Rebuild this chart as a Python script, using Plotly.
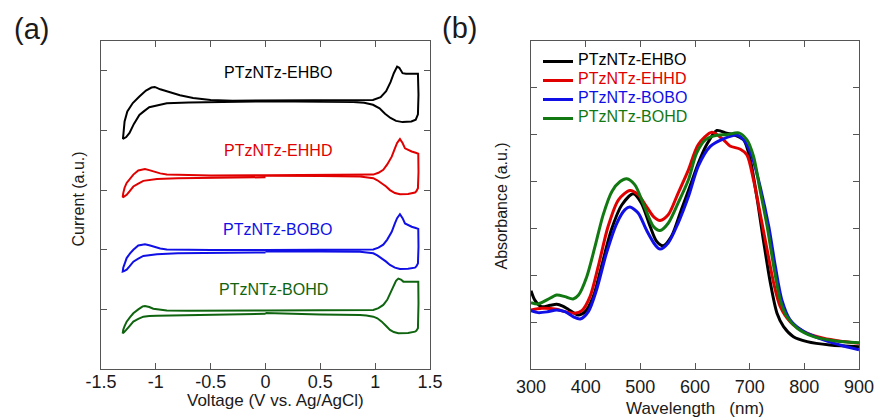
import plotly.graph_objects as go

# ---------------- (a) Cyclic voltammetry ----------------
cv_names = ["PTzNTz-EHBO", "PTzNTz-EHHD", "PTzNTz-BOBO", "PTzNTz-BOHD"]
cv_colors = ["#000000", "#e00000", "#1010e6", "#0f640f"]

v_ehbo = [0, -0.5, -0.7, -0.9, -1.0, -1.06, -1.11, -1.15, -1.2, -1.24, -1.27, -1.30,
          -1.295, -1.285, -1.26, -1.21, -1.15, -1.09, -1.04, -1.01, -0.96, -0.88, -0.78, -0.66, -0.5, -0.3,
          0, 0.5, 0.85, 0.98, 1.05, 1.10, 1.14, 1.17, 1.20, 1.22, 1.25, 1.28, 1.39,
          1.395, 1.39, 1.37, 1.33, 1.25, 1.19, 1.14, 1.09, 1.04, 0.98, 0.9, 0.8, 0.5, 0]
i_ehbo = [4.49, 4.478, 4.47, 4.455, 4.42, 4.39, 4.32, 4.26, 4.11, 3.96, 3.89, 3.86,
          3.95, 4.15, 4.32, 4.46, 4.57, 4.67, 4.72, 4.73, 4.69, 4.64, 4.59, 4.545, 4.51, 4.50,
          4.50, 4.50, 4.50, 4.51, 4.56, 4.66, 4.81, 4.96, 5.07, 5.05, 4.96, 4.95, 4.95,
          4.6, 4.27, 4.18, 4.15, 4.14, 4.16, 4.21, 4.28, 4.37, 4.43, 4.465, 4.478, 4.485, 4.49]

v_ehhd = [0, -0.5, -0.8, -0.99, -1.06, -1.114, -1.16, -1.205, -1.24, -1.266, -1.29, -1.302,
          -1.297, -1.285, -1.266, -1.235, -1.205, -1.16, -1.12, -1.099, -1.06, -1.023, -0.96, -0.9, -0.7, -0.5,
          0, 0.5, 0.9, 0.983, 1.03, 1.074, 1.11, 1.151, 1.18, 1.2, 1.226, 1.25, 1.272, 1.30, 1.333, 1.37, 1.393,
          1.395, 1.39, 1.375, 1.363, 1.3, 1.226, 1.18, 1.135, 1.1, 1.06, 1.02, 0.983, 0.92, 0.862, 0.5, 0]
i_ehhd = [3.215, 3.21, 3.20, 3.184, 3.17, 3.155, 3.11, 3.06, 2.98, 2.92, 2.89, 2.88,
          2.95, 3.04, 3.12, 3.20, 3.26, 3.33, 3.35, 3.352, 3.335, 3.31, 3.28, 3.262, 3.25, 3.245,
          3.25, 3.255, 3.256, 3.26, 3.29, 3.34, 3.43, 3.56, 3.70, 3.79, 3.855, 3.79, 3.70, 3.67, 3.647, 3.625, 3.61,
          3.3, 3.03, 2.98, 2.96, 2.935, 2.93, 2.95, 3.00, 3.06, 3.117, 3.165, 3.20, 3.22, 3.228, 3.235, 3.24]

v_bobo = [0, -0.5, -0.8, -0.99, -1.06, -1.114, -1.16, -1.205, -1.24, -1.266, -1.29, -1.302,
          -1.297, -1.285, -1.266, -1.235, -1.205, -1.16, -1.12, -1.099, -1.06, -1.023, -0.96, -0.9, -0.7, -0.5,
          0, 0.5, 0.9, 0.983, 1.03, 1.074, 1.11, 1.151, 1.18, 1.2, 1.226, 1.25, 1.272, 1.30, 1.333, 1.37, 1.393,
          1.395, 1.39, 1.375, 1.363, 1.3, 1.226, 1.18, 1.135, 1.1, 1.06, 1.02, 0.983, 0.92, 0.862, 0.5, 0]
i_bobo = [1.955, 1.95, 1.94, 1.925, 1.91, 1.895, 1.85, 1.80, 1.72, 1.665, 1.64, 1.633,
          1.70, 1.78, 1.86, 1.94, 2.00, 2.07, 2.09, 2.093, 2.075, 2.05, 2.02, 2.005, 1.998, 1.995,
          1.997, 1.998, 2.0, 2.005, 2.035, 2.085, 2.17, 2.30, 2.44, 2.53, 2.596, 2.53, 2.44, 2.41, 2.385, 2.365, 2.35,
          2.05, 1.77, 1.72, 1.70, 1.682, 1.678, 1.70, 1.745, 1.80, 1.86, 1.905, 1.94, 1.96, 1.968, 1.97, 1.97]

v_bohd = [0, -0.5, -0.8, -0.99, -1.06, -1.114, -1.16, -1.205, -1.24, -1.266, -1.29, -1.302,
          -1.297, -1.285, -1.266, -1.235, -1.205, -1.16, -1.12, -1.099, -1.06, -1.023, -0.96, -0.9, -0.7, -0.5,
          0, 0.5, 0.9, 0.983, 1.03, 1.074, 1.11, 1.135, 1.165, 1.19, 1.211, 1.235, 1.257, 1.3, 1.393,
          1.395, 1.39, 1.375, 1.363, 1.3, 1.211, 1.17, 1.135, 1.1, 1.06, 1.02, 0.983, 0.92, 0.862, 0.5, 0]
i_bohd = [0.925, 0.915, 0.905, 0.895, 0.888, 0.878, 0.84, 0.794, 0.72, 0.655, 0.615, 0.599,
          0.66, 0.72, 0.794, 0.87, 0.935, 1.0, 1.05, 1.057, 1.04, 1.01, 0.99, 0.98, 0.977, 0.975,
          0.98, 0.985, 0.988, 0.99, 1.02, 1.074, 1.16, 1.27, 1.40, 1.48, 1.516, 1.50, 1.465, 1.465, 1.465,
          1.1, 0.683, 0.64, 0.626, 0.605, 0.599, 0.62, 0.655, 0.72, 0.794, 0.85, 0.878, 0.897, 0.906, 0.915, 0.94]

cv_label_x = [0.111, 0.111, 0.113, 0.077]
cv_label_y = [4.973, 3.667, 2.333, 1.334]

cv_x_ticks = [-1.5, -1, -0.5, 0, 0.5, 1, 1.5]
cv_x_text = ["-1.5", "-1", "-0.5", "0", "0.5", "1", "1.5"]
cv_y_ticks = [1, 2, 3, 4, 5]

# ---------------- (b) UV-vis absorption ----------------
abs_names = ["PTzNTz-EHBO", "PTzNTz-EHHD", "PTzNTz-BOBO", "PTzNTz-BOHD"]
abs_colors = ["#000000", "#e00000", "#1010e6", "#127812"]

wl_ehbo = [300, 307, 319, 335, 347, 358, 368, 386, 399, 414, 429, 447, 466, 487, 502, 518, 530, 542, 557,
           575, 594, 606, 622, 640, 658, 671, 689, 701, 713, 725, 738, 750, 762, 780, 805, 847, 900]
a_ehbo = [1.67, 1.47, 1.33, 1.36, 1.38, 1.34, 1.275, 1.154, 1.225, 1.545, 2.19, 2.97, 3.5, 3.74, 3.54, 3.04,
          2.72, 2.63, 2.83, 3.4, 4.0, 4.39, 4.8, 5.09, 5.03, 5.0, 4.89, 4.47, 3.68, 2.76, 1.83, 1.19, 0.905,
          0.69, 0.585, 0.513, 0.477]

wl_ehhd = [300, 320, 347, 362, 380, 393, 408, 423, 441, 460, 481, 496, 511, 525, 536, 551, 569, 588, 606,
           631, 652, 664, 683, 695, 707, 719, 732, 744, 756, 774, 799, 835, 872, 900]
a_ehhd = [1.26, 1.297, 1.275, 1.225, 1.19, 1.246, 1.545, 2.19, 3.04, 3.61, 3.81, 3.72, 3.47, 3.24, 3.17,
          3.29, 3.75, 4.25, 4.79, 5.05, 4.89, 4.76, 4.69, 4.57, 4.04, 3.33, 2.54, 1.83, 1.33, 1.01, 0.80,
          0.655, 0.585, 0.55]

wl_bobo = [300, 313, 330, 347, 362, 377, 390, 405, 420, 438, 457, 472, 481, 496, 511, 527, 536, 551, 569,
           588, 606, 628, 652, 677, 689, 704, 719, 735, 747, 759, 774, 799, 835, 872, 900]
a_bobo = [1.246, 1.203, 1.22, 1.26, 1.225, 1.118, 1.068, 1.225, 1.69, 2.47, 3.11, 3.40, 3.455, 3.33, 2.97,
          2.65, 2.56, 2.69, 3.11, 3.68, 4.33, 4.75, 4.91, 4.99, 4.89, 4.54, 3.9, 3.04, 2.19, 1.47, 1.05, 0.80,
          0.62, 0.49, 0.41]

wl_bohd = [300, 313, 330, 347, 362, 377, 387, 402, 417, 432, 448, 463, 475, 490, 505, 524, 536, 551, 569,
           588, 603, 620, 640, 658, 680, 695, 707, 719, 732, 744, 756, 768, 787, 817, 854, 900]
a_bohd = [1.417, 1.389, 1.48, 1.58, 1.545, 1.496, 1.58, 1.97, 2.61, 3.29, 3.79, 4.0, 4.06, 3.93, 3.54, 3.04,
          2.955, 3.11, 3.54, 4.04, 4.61, 4.9, 4.99, 5.0, 5.04, 4.89, 4.54, 3.82, 3.04, 2.19, 1.47, 1.12, 0.87,
          0.69, 0.605, 0.56]

abs_x_ticks = [300, 400, 500, 600, 700, 800, 900]
abs_y_ticks = [1, 2, 3, 4, 5, 6]

FONT = "Liberation Sans, Arial, sans-serif"
TXT = "#1a1a1a"
FRAME = "#555555"

fig = go.Figure()

cv_v = [v_ehbo, v_ehhd, v_bobo, v_bohd]
cv_i = [i_ehbo, i_ehhd, i_bobo, i_bohd]
for n, c, xs, ys in zip(cv_names, cv_colors, cv_v, cv_i):
    fig.add_trace(go.Scatter(x=xs, y=ys, mode="lines", line=dict(color=c, width=2),
                             showlegend=False, name=n, xaxis="x", yaxis="y"))

ab_w = [wl_ehbo, wl_ehhd, wl_bobo, wl_bohd]
ab_a = [a_ehbo, a_ehhd, a_bobo, a_bohd]
for n, c, xs, ys in zip(abs_names, abs_colors, ab_w, ab_a):
    fig.add_trace(go.Scatter(x=xs, y=ys, mode="lines",
                             line=dict(color=c, width=3, shape="spline", smoothing=0.8),
                             name="<span style='color:%s;font-size:16px'>%s</span>" % (c, n),
                             xaxis="x2", yaxis="y2"))

for n, c, lx, ly in zip(cv_names, cv_colors, cv_label_x, cv_label_y):
    fig.add_annotation(x=lx, y=ly, xref="x", yref="y", text=n, showarrow=False,
                       font=dict(family=FONT, size=16, color=c), xanchor="center", yanchor="middle")

axis_common = dict(showline=True, linecolor=FRAME, linewidth=1, mirror="ticks", ticks="inside",
                   ticklen=6, tickcolor=FRAME, tickwidth=1, showgrid=False, zeroline=False,
                   tickfont=dict(family=FONT, size=18, color=TXT))

H = 418.0
W = 875.0
ydom = [1 - 369 / H, 1 - 41 / H]

fig.update_layout(
    width=875, height=418,
    margin=dict(l=0, r=0, t=0, b=0, autoexpand=False),
    paper_bgcolor="white", plot_bgcolor="white",
    font=dict(family=FONT, color=TXT),
    xaxis=dict(domain=[101 / W, 430 / W], range=[-1.5, 1.5], tickvals=cv_x_ticks, ticktext=cv_x_text,
               anchor="y", ticklabelstandoff=-4, **axis_common),
    yaxis=dict(domain=ydom, range=[0, 5.5], tickvals=cv_y_ticks, showticklabels=False,
               anchor="x", **axis_common),
    xaxis2=dict(domain=[531 / W, 859 / W], range=[300, 900], tickvals=abs_x_ticks,
                anchor="y2", ticklabelstandoff=1, **axis_common),
    yaxis2=dict(domain=ydom, range=[0, 7], tickvals=abs_y_ticks, showticklabels=False,
                anchor="x2", **axis_common),
    legend=dict(x=538 / W, y=1 - 47 / H, xanchor="left", yanchor="top",
                font=dict(family=FONT, size=10), bgcolor="rgba(0,0,0,0)", borderwidth=0,
                tracegroupgap=0),
)

annots = [
    dict(text="Voltage (V vs. Ag/AgCl)", x=275 / W, y=1 - 400 / H, size=17, angle=0),
    dict(text="Wavelength\u00a0\u00a0 (nm)", x=695 / W, y=1 - 408 / H, size=17, angle=0),
    dict(text="Current (a.u.)", x=77.5 / W, y=1 - 199 / H, size=16, angle=-90),
    dict(text="Absorbance (a.u.)", x=501 / W, y=1 - 206.5 / H, size=16, angle=-90),
    dict(text="(a)", x=31 / W, y=1 - 29 / H, size=29, angle=0),
    dict(text="(b)", x=459.5 / W, y=1 - 28 / H, size=29, angle=0),
]
for a in annots:
    fig.add_annotation(text=a["text"], x=a["x"], y=a["y"], xref="paper", yref="paper",
                       showarrow=False, textangle=a["angle"], xanchor="center", yanchor="middle",
                       font=dict(family=FONT, size=a["size"], color=TXT))

fig.write_html("out.html")
